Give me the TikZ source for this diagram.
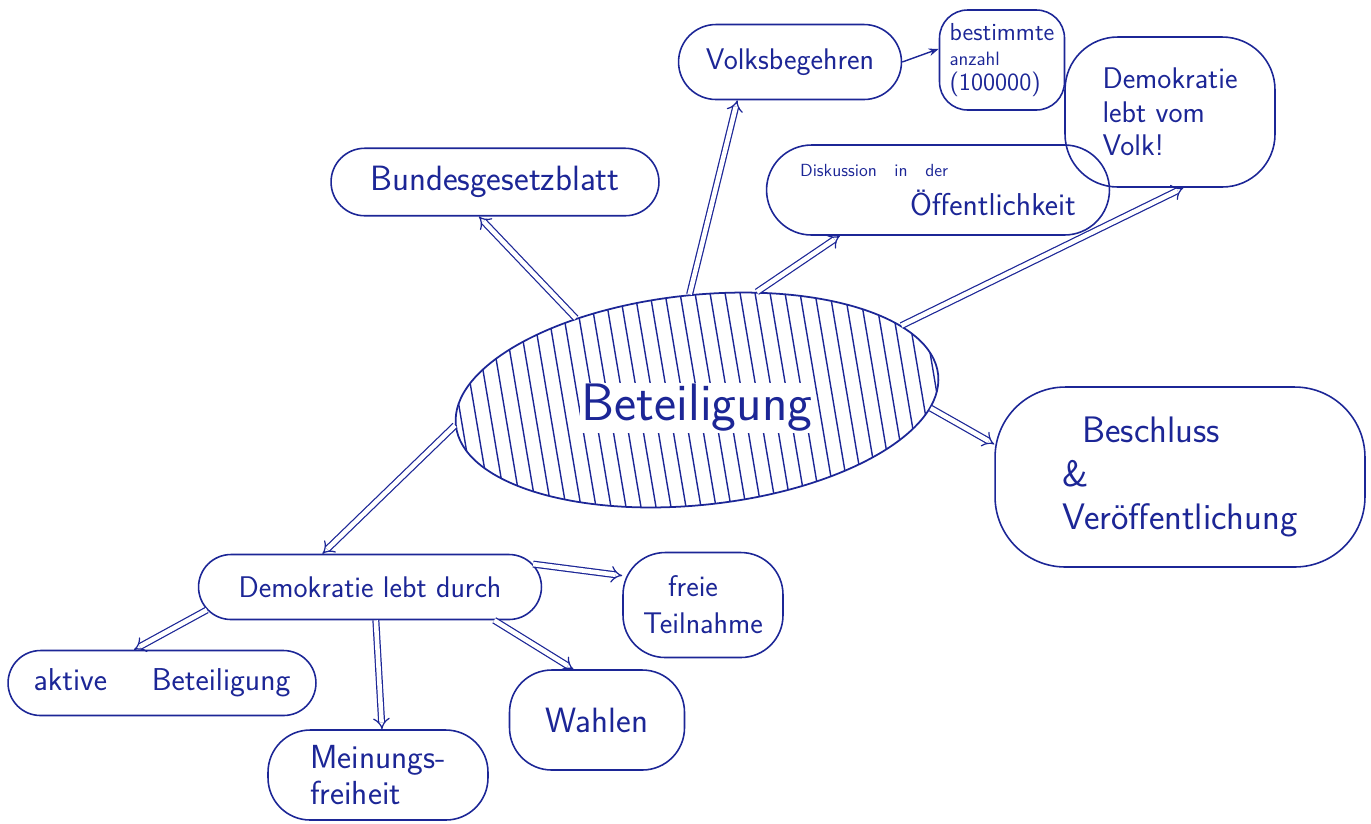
\documentclass[tikz,border=0pt]{standalone}
\usepackage{fontspec}
\usetikzlibrary{arrows.meta, shapes.geometric, shapes.misc}
\definecolor{ink}{RGB}{28,38,150}
\tikzset{
  blob/.style={
    draw=ink, line width=0.9pt, text=ink, align=center
  },
  stadium/.style={blob, rounded rectangle, inner sep=2pt},
  cloudbox/.style={blob, rectangle, rounded corners=24pt, inner sep=3pt},
  corebox/.style={
    ellipse, draw=ink, line width=1pt
  },
  hatch/.style={draw=ink, line width=0.8pt},
  dblarrow/.style={
    draw=ink, line width=0.7pt, double=white, double distance=2.6pt,
    -{Implies}
  },
  thinarrow/.style={draw=ink, line width=0.8pt, -{Stealth[open, length=2mm]}},
}
\newcommand{\inksize}[1]{\sffamily\fontsize{#1}{#1}\selectfont}
\begin{document}
\begin{tikzpicture}[x=0.02cm, y=-0.02cm]
  \useasboundingbox (0,0) rectangle (1371,823);

  % centre
  \node[corebox, minimum width=9.7cm, minimum height=4.2cm, rotate=6] (core) at (697,400) {};
  \begin{scope}
    \clip[rotate around={6:(697,400)}] (697,400) ellipse [x radius=4.85cm, y radius=2.1cm];
    \foreach \k in {-17,...,17}
      \draw[hatch] ({697+\k*15-20},275) -- ++(42,250);
  \end{scope}
  \node[fill=white, inner sep=1pt, text=ink, font=\inksize{30}] (corelabel) at (697,408) {Beteiligung};

  % top branches
  \node[stadium, minimum width=6.7cm, minimum height=1.35cm, font=\inksize{20}] (bgb) at (495,182) {Bundesgesetzblatt};
  \node[stadium, minimum width=4.6cm, minimum height=1.5cm, font=\inksize{17}] (vb) at (790,62) {Volksbegehren};
  \node[cloudbox, rounded corners=16pt, minimum width=2.5cm, minimum height=2.0cm, align=left, font=\inksize{14}] (best) at (1002,60)
    {bestimmte\\{\inksize{11}anzahl}\\(100000)};
  \node[cloudbox, rounded corners=30pt, minimum width=4.2cm, minimum height=3cm, align=left, font=\inksize{17}] (volk) at (1170,112)
    {Demokratie\\[2pt]lebt vom\\[2pt]Volk!};
  \node[stadium, minimum width=7.0cm, minimum height=1.8cm, align=left, font=\inksize{18}] (disk) at (938,190)
    {{\inksize{10}Diskussion\quad in\quad der}\\[4pt]\hspace*{2.2cm}Öffentlichkeit};

  % right branch
  \node[cloudbox, rounded corners=40pt, minimum width=7.4cm, minimum height=3.6cm, align=left, font=\inksize{21}] (besch) at (1180,477)
    {\hspace*{0.4cm}Beschluss\\[4pt]\&\\[4pt]Veröffentlichung};

  % lower branches
  \node[stadium, minimum width=7.0cm, minimum height=1.3cm, font=\inksize{17}] (dld) at (370,587) {Demokratie lebt durch};
  \node[cloudbox, minimum width=3.2cm, minimum height=2.1cm, align=left, font=\inksize{17}] (frei) at (703,605)
    {\hspace*{0.5cm}freie\\[4pt]Teilnahme};
  \node[stadium, minimum width=6.3cm, minimum height=1.3cm, font=\inksize{18}] (akt) at (162,683) {aktive\hspace{0.9cm}Beteiligung};
  \node[cloudbox, minimum width=4.4cm, minimum height=1.8cm, align=left, font=\inksize{19}] (mf) at (378,775)
    {Meinungs-\\[2pt]freiheit};
  \node[cloudbox, minimum width=3.5cm, minimum height=2.0cm, font=\inksize{20}] (wahl) at (597,720) {Wahlen};

  % arrows
  \draw[dblarrow] (core.140) -- (bgb.-115);
  \draw[dblarrow] (core.88) -- (vb.216);
  \draw[dblarrow] (core.55) -- (disk.205);
  \draw[dblarrow] (core.14) -- (volk.-80);
  \draw[dblarrow] (core.-8) -- (besch.170);
  \draw[dblarrow] (core.180) -- (dld.145);
  \draw[thinarrow] (vb.east) -- (best.170);
  \draw[dblarrow] (dld.8) -- (frei.160);
  \draw[dblarrow] (dld.188) -- (akt.130);
  \draw[dblarrow] (dld.-80) -- (mf.85);
  \draw[dblarrow] (dld.-15) -- (wahl.115);
\end{tikzpicture}
\end{document}
